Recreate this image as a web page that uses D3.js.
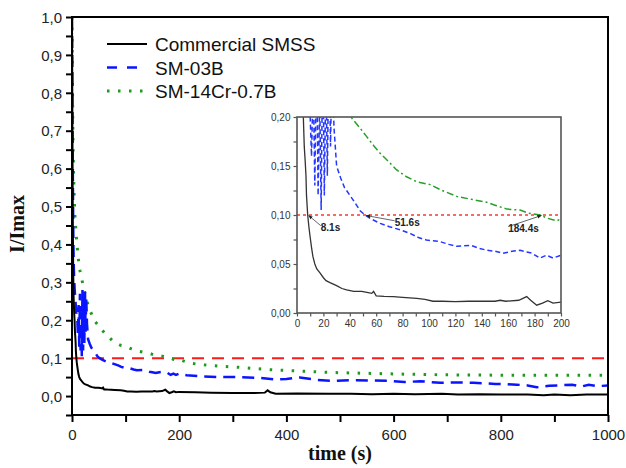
<!DOCTYPE html>
<html>
<head>
<meta charset="utf-8">
<script src="https://cdn.jsdelivr.net/npm/d3@7"></script>
<style>
body { margin:0; background:#fff; }
svg { display:block; }
</style>
</head>
<body>
<svg width="626" height="468"></svg>
<script>
// [time (s), I/Imax]
const commercialSMSS = [[0,1.0],[0.4,0.85],[0.8,0.7],[1.2,0.56],[1.6,0.45],[2,0.37],[2.5,0.3],[3,0.26],[3.5,0.24],[4.2,0.215],[4.8,0.2],[5.5,0.17],[6.2,0.155],[6.8,0.14],[7.2,0.12],[8.1,0.1],[9,0.088],[10,0.077],[11,0.067],[12,0.058],[13.5,0.05],[15,0.045],[17.4,0.041],[20,0.036],[22,0.033],[25,0.031],[30,0.028],[34,0.025],[37.6,0.0235],[43,0.022],[49,0.022],[53,0.021],[56.6,0.02],[58,0.022],[60,0.0175],[66,0.017],[73,0.0168],[80,0.016],[90.7,0.015],[97,0.014],[103,0.012],[110,0.012],[120,0.0116],[130,0.012],[140,0.012],[150,0.012],[154,0.013],[158,0.012],[168,0.013],[174,0.0167],[177,0.013],[181.6,0.008],[186,0.01],[190,0.0126],[194,0.01],[200,0.011],[230,0.01],[260,0.009],[300,0.008],[340,0.008],[360,0.009],[365,0.015],[370,0.01],[380,0.006],[420,0.007],[480,0.006],[520,0.006],[560,0.005],[600,0.006],[640,0.005],[690,0.006],[720,0.004],[760,0.005],[800,0.004],[850,0.004],[880,0.002],[900,0.004],[930,0.002],[960,0.004],[1000,0.004]];
const sm03B = [[0,1.0],[0.5,0.9],[1,0.75],[1.5,0.6],[2,0.5],[2.5,0.42],[3,0.36],[4,0.31],[5,0.28],[6,0.26],[7,0.24],[8,0.22],[9,0.21],[10,0.2],[11,0.16],[12.3,0.24],[13.5,0.13],[14.8,0.27],[16,0.12],[17.2,0.22],[18.3,0.105],[19.5,0.28],[20.7,0.12],[21.9,0.25],[23,0.14],[24.2,0.28],[25.4,0.17],[26.5,0.26],[28,0.19],[30,0.15],[33,0.138],[36,0.128],[42.7,0.115],[48,0.104],[51.6,0.1],[56,0.096],[63,0.0915],[70,0.088],[78,0.085],[86,0.081],[92,0.077],[98,0.0745],[108,0.073],[115,0.07],[121,0.068],[132,0.069],[138,0.066],[144,0.064],[150,0.063],[156,0.061],[163,0.063],[169,0.064],[175,0.062],[178,0.061],[184,0.056],[189,0.059],[194,0.056],[200,0.059],[214,0.055],[240,0.052],[275,0.05],[310,0.05],[350,0.048],[380,0.044],[400,0.045],[425,0.049],[455,0.043],[487,0.04],[530,0.042],[560,0.041],[593,0.04],[620,0.037],[650,0.039],[687,0.035],[720,0.036],[749,0.035],[790,0.032],[830,0.03],[850,0.028],[867,0.023],[890,0.027],[933,0.03],[950,0.025],[964,0.03],[980,0.026],[1000,0.028]];
const sm14Cr07B = [[0,1.0],[0.5,0.9],[1,0.8],[1.5,0.72],[2,0.65],[3,0.58],[4,0.53],[5.6,0.47],[8.7,0.41],[12,0.36],[15,0.33],[21,0.29],[26,0.26],[32,0.23],[37,0.215],[41.4,0.199],[47,0.19],[52.8,0.18],[58,0.171],[63,0.163],[69,0.155],[75.5,0.146],[83,0.139],[90.7,0.134],[100.8,0.131],[110,0.125],[121,0.119],[132,0.116],[143.7,0.113],[150,0.11],[159,0.106],[169,0.105],[175,0.102],[179,0.101],[184.4,0.1],[189,0.097],[196.7,0.094],[200,0.096],[220,0.087],[239,0.083],[276,0.079],[320,0.075],[363,0.07],[425,0.066],[488,0.062],[550,0.06],[612,0.058],[699,0.056],[799,0.055],[892,0.055],[1000,0.055]];
const threshold = 0.1;
const legendLabels = ["Commercial SMSS", "SM-03B", "SM-14Cr-0.7B"];
const mainXTicks = [0,100,200,300,400,500,600,700,800,900,1000];
const mainYTicks = [-0.05,0,0.05,0.1,0.15,0.2,0.25,0.3,0.35,0.4,0.45,0.5,0.55,0.6,0.65,0.7,0.75,0.8,0.85,0.9,0.95,1.0];
const insetXTicks = [0,10,20,30,40,50,60,70,80,90,100,110,120,130,140,150,160,170,180,190,200];
const insetYTicks = [0,0.025,0.05,0.075,0.1,0.125,0.15,0.175,0.2];
// crossing times and where their labels sit (data coords of the inset)
const crossTimes = [8.1, 51.6, 184.4];
const crossLabels = ["8.1s", "51.6s", "184.4s"];
const crossLabelPos = [[18,0.084],[74,0.089],[160,0.083]];

const svg = d3.select("svg");
const sans = "'Liberation Sans', Arial, sans-serif";
const serif = "'Liberation Serif', 'Times New Roman', serif";

const x = d3.scaleLinear().domain([0,1000]).range([72,608]);
const y = d3.scaleLinear().domain([-0.05,1.0]).range([415,17]);
const xi = d3.scaleLinear().domain([0,200]).range([297,561]);
const yi = d3.scaleLinear().domain([0,0.2]).range([313,117]);

function comma(f) {
	return (d) => f(d).replace(".", ",");
}

function drawMain() {
	svg.append("clipPath").attr("id", "mainClip").append("rect")
		.attr("x", 72).attr("y", 17).attr("width", 536).attr("height", 398);
	const line = d3.line().x(d => x(d[0])).y(d => y(d[1]));
	const g = svg.append("g").attr("clip-path", "url(#mainClip)");

	g.append("path").datum([[0,threshold],[1000,threshold]]).attr("d", line)
		.attr("fill", "none").attr("stroke", "#ff1a1a").attr("stroke-width", 2).attr("stroke-dasharray", "12,8");
	g.append("path").datum(sm14Cr07B).attr("d", line)
		.attr("fill", "none").attr("stroke", "#1f9a1f").attr("stroke-width", 3).attr("stroke-dasharray", "2.5,8.5");
	g.append("path").datum(sm03B).attr("d", line)
		.attr("fill", "none").attr("stroke", "#0a14ff").attr("stroke-width", 2.5).attr("stroke-dasharray", "12,7");
	g.append("path").datum(commercialSMSS).attr("d", line)
		.attr("fill", "none").attr("stroke", "#000").attr("stroke-width", 2);

	const f1 = comma(d3.format(".1f"));
	const yAxis = d3.axisLeft(y).tickValues(mainYTicks).tickSize(6).tickSizeOuter(0).tickPadding(4)
		.tickFormat(d => (Math.round(d*100) % 10 === 0 && d >= 0) ? f1(d) : "");
	const xAxis = d3.axisBottom(x).tickValues(mainXTicks).tickSize(7).tickSizeOuter(0).tickPadding(7)
		.tickFormat(d => d % 200 === 0 ? d : "");
	const ga = svg.append("g").attr("transform", "translate(72,0)").call(yAxis);
	const gb = svg.append("g").attr("transform", "translate(0,415)").call(xAxis);
	[ga, gb].forEach(a => {
		a.select(".domain").remove();
		a.selectAll(".tick line").attr("stroke", "#000").attr("stroke-width", 2);
		a.selectAll("text").attr("font-family", sans).attr("font-size", 15).attr("fill", "#222");
	});
	ga.selectAll("text").attr("dy", "0.35em");

	svg.append("rect").attr("x", 72).attr("y", 17).attr("width", 536).attr("height", 398)
		.attr("fill", "none").attr("stroke", "#000").attr("stroke-width", 2);

	svg.append("text").attr("transform", "translate(24,224) rotate(-90)")
		.attr("text-anchor", "middle").attr("font-family", serif).attr("font-weight", "bold")
		.attr("font-size", 20).attr("fill", "#111").text("I/Imax");
	svg.append("text").attr("x", 340).attr("y", 460)
		.attr("text-anchor", "middle").attr("font-family", serif).attr("font-weight", "bold")
		.attr("font-size", 20).attr("fill", "#111").text("time (s)");
}

function drawLegend() {
	const styles = [
		{stroke:"#000", w:2, dash:null},
		{stroke:"#0a14ff", w:2.5, dash:"10,10"},
		{stroke:"#1f9a1f", w:3, dash:"2.5,8.5"}
	];
	legendLabels.forEach((lab, i) => {
		const cy = 44 + i*23.5;
		const l = svg.append("line").attr("x1", 107).attr("x2", 147).attr("y1", cy).attr("y2", cy)
			.attr("stroke", styles[i].stroke).attr("stroke-width", styles[i].w);
		if (styles[i].dash) l.attr("stroke-dasharray", styles[i].dash);
		svg.append("text").attr("x", 155).attr("y", cy + 7)
			.attr("font-family", sans).attr("font-size", 19).attr("fill", "#111").text(lab);
	});
}

function drawInset() {
	svg.append("rect").attr("x", 297).attr("y", 117).attr("width", 264).attr("height", 196).attr("fill", "#fff");
	svg.append("clipPath").attr("id", "insetClip").append("rect")
		.attr("x", 297).attr("y", 117).attr("width", 264).attr("height", 196);
	const line = d3.line().x(d => xi(d[0])).y(d => yi(d[1]));
	const g = svg.append("g").attr("clip-path", "url(#insetClip)");

	g.append("path").datum([[0,threshold],[200,threshold]]).attr("d", line)
		.attr("fill", "none").attr("stroke", "#ff3535").attr("stroke-width", 1.6).attr("stroke-dasharray", "3,3");
	g.append("path").datum(sm14Cr07B).attr("d", line)
		.attr("fill", "none").attr("stroke", "#2a9e2a").attr("stroke-width", 1.5).attr("stroke-dasharray", "7,3,2,3");
	g.append("path").datum(sm03B).attr("d", line)
		.attr("fill", "none").attr("stroke", "#2436ff").attr("stroke-width", 1.5).attr("stroke-dasharray", "5,3");
	g.append("path").datum(commercialSMSS).attr("d", line)
		.attr("fill", "none").attr("stroke", "#333").attr("stroke-width", 1.3);

	const f2 = comma(d3.format(".2f"));
	const yAxis = d3.axisLeft(yi).tickValues(insetYTicks).tickSize(3.5).tickSizeOuter(0).tickPadding(3)
		.tickFormat(d => Math.round(d*1000) % 50 === 0 ? f2(d) : "");
	const xAxis = d3.axisBottom(xi).tickValues(insetXTicks).tickSize(3.5).tickSizeOuter(0).tickPadding(3)
		.tickFormat(d => d % 20 === 0 ? d : "");
	const ga = svg.append("g").attr("transform", "translate(297,0)").call(yAxis);
	const gb = svg.append("g").attr("transform", "translate(0,313)").call(xAxis);
	[ga, gb].forEach(a => {
		a.select(".domain").remove();
		a.selectAll(".tick line").attr("stroke", "#555").attr("stroke-width", 1.2);
		a.selectAll("text").attr("font-family", sans).attr("font-size", 10).attr("fill", "#333");
	});

	svg.append("rect").attr("x", 297).attr("y", 117).attr("width", 264).attr("height", 196)
		.attr("fill", "none").attr("stroke", "#555").attr("stroke-width", 1.6);

	// little arrows pointing at the threshold crossings
	svg.append("defs").append("marker").attr("id", "arrow")
		.attr("viewBox", "0 0 10 10").attr("refX", 9).attr("refY", 5)
		.attr("markerWidth", 5).attr("markerHeight", 5).attr("orient", "auto")
		.append("path").attr("d", "M0,1 L10,5 L0,9 z").attr("fill", "#222");
	crossTimes.forEach((t, i) => {
		const lx = xi(crossLabelPos[i][0]), ly = yi(crossLabelPos[i][1]);
		svg.append("line").attr("x1", lx).attr("y1", ly - 5).attr("x2", xi(t) + 1).attr("y2", yi(threshold) + 0.5)
			.attr("stroke", "#555").attr("stroke-width", 0.9).attr("marker-end", "url(#arrow)");
		svg.append("text").attr("x", lx).attr("y", ly)
			.attr("font-family", sans).attr("font-size", 10).attr("font-weight", "bold").attr("fill", "#222")
			.text(crossLabels[i]);
	});
}

drawMain();
drawLegend();
drawInset();
</script>
</body>
</html>
